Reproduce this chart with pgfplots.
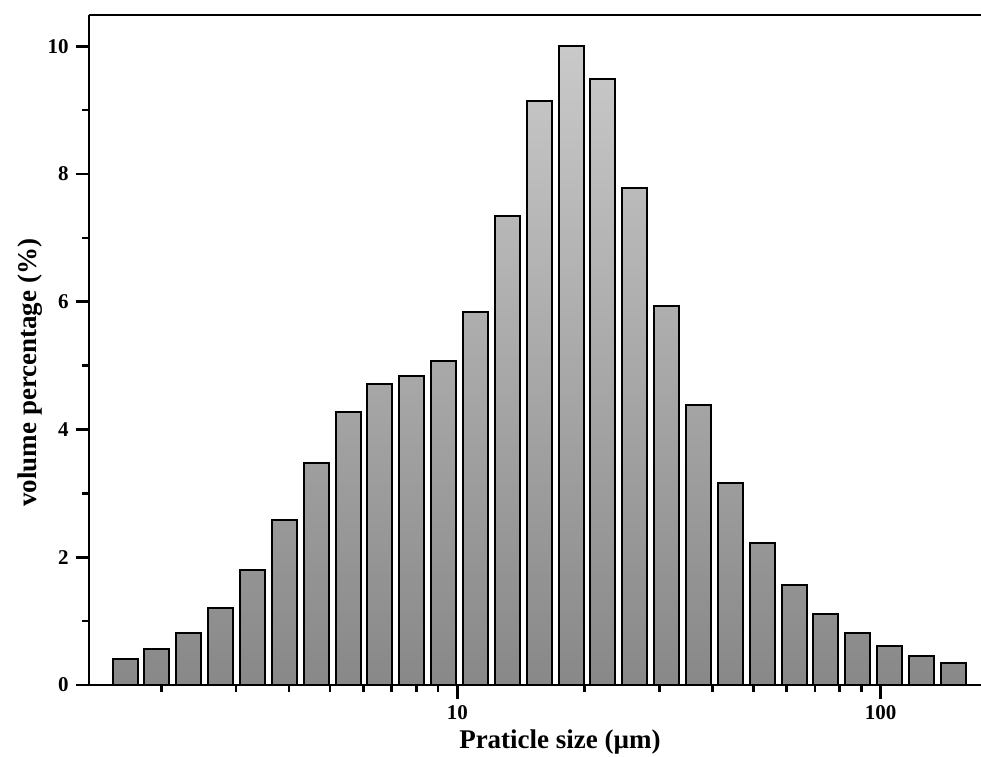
\documentclass[border=0pt]{standalone}
\usepackage{fontspec}
\setmainfont{Liberation Serif}
\usepackage{pgfplots}
\pgfplotsset{compat=1.18}

\definecolor{bartop}{HTML}{C9C9C9}
\definecolor{barbot}{HTML}{888888}

\begin{document}
\begin{tikzpicture}
\begin{axis}[
  scale only axis,
  width=446pt, height=335pt,
  xmode=log,
  xmin=1.349, xmax=172.6,
  ymin=0, ymax=10.49,
  axis y line*=left,
  xtick pos=left,
  tick align=outside,
  xtick={10,100},
  xticklabels={10,100},
  minor xtick={2,3,4,5,6,7,8,9,20,30,40,50,60,70,80,90},
  ytick={0,2,4,6,8,10},
  minor ytick={1,3,5,7,9},
  major tick length=6.75pt,
  minor tick length=3.5pt,
  every tick/.style={black, line width=1.3pt},
  axis line style={black, line width=1.35pt},
  /pgf/number format/assume math mode=true,
  tick label style={font=\bfseries\fontsize{10.5}{12}\selectfont},
  label style={font=\bfseries\fontsize{13.5}{16}\selectfont},
  xlabel={Praticle size (µm)},
  ylabel={volume percentage (\%)},
  xlabel style={at={(axis description cs:0.528,-0.0955)}, anchor=base},
  ylabel style={at={(axis description cs:-0.0583,0.466)}, anchor=base},
]
\coordinate (bl) at (rel axis cs:0,0);

% volume fraction per size class (bins step 2^(1/4))
\addplot[ybar, bar width=12.5pt, draw=black, line width=1pt,
  top color=bartop, bottom color=barbot]
coordinates {
  (1.641, 0.40)
  (1.9515, 0.56)
  (2.3207, 0.82)
  (2.7598, 1.21)
  (3.282, 1.80)
  (3.903, 2.59)
  (4.6414, 3.48)
  (5.5196, 4.27)
  (6.564, 4.71)
  (7.806, 4.84)
  (9.2829, 5.08)
  (11.039, 5.84)
  (13.128, 7.34)
  (15.612, 9.15)
  (18.566, 10.01)
  (22.079, 9.49)
  (26.256, 7.78)
  (31.224, 5.94)
  (37.132, 4.39)
  (44.157, 3.17)
  (52.512, 2.23)
  (62.448, 1.565)
  (74.263, 1.11)
  (88.314, 0.81)
  (105.02, 0.615)
  (124.90, 0.46)
  (148.53, 0.34)
};
\end{axis}
\pgfresetboundingbox
\path[use as bounding box] ([shift={(-44.5pt,-35.5pt)}]bl) rectangle ([shift={(446pt,342.5pt)}]bl);
\end{tikzpicture}
\end{document}
